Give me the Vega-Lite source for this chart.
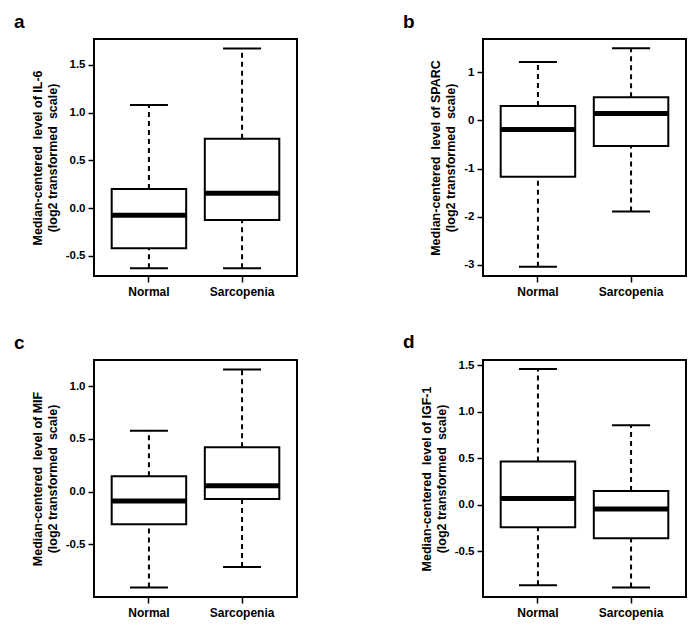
{
  "$schema": "https://vega.github.io/schema/vega-lite/v6.json",
  "background": "white",
  "padding": {"left": 13, "top": 12, "right": 5, "bottom": 5},
  "columns": 2,
  "bounds": "flush",
  "spacing": {"column": 186, "row": 84},
  "datasets": {
    "il6": [
      {"group": "Normal", "lower": -0.63, "q1": -0.42, "median": -0.075, "q3": 0.2, "upper": 1.08},
      {"group": "Sarcopenia", "lower": -0.63, "q1": -0.125, "median": 0.155, "q3": 0.727, "upper": 1.67}
    ],
    "sparc": [
      {"group": "Normal", "lower": -3.04, "q1": -1.17, "median": -0.19, "q3": 0.3, "upper": 1.21},
      {"group": "Sarcopenia", "lower": -1.89, "q1": -0.53, "median": 0.145, "q3": 0.48, "upper": 1.5}
    ],
    "mif": [
      {"group": "Normal", "lower": -0.91, "q1": -0.31, "median": -0.09, "q3": 0.145, "upper": 0.578},
      {"group": "Sarcopenia", "lower": -0.714, "q1": -0.07, "median": 0.055, "q3": 0.42, "upper": 1.158}
    ],
    "igf1": [
      {"group": "Normal", "lower": -0.865, "q1": -0.242, "median": 0.068, "q3": 0.466, "upper": 1.459},
      {"group": "Sarcopenia", "lower": -0.889, "q1": -0.36, "median": -0.045, "q3": 0.149, "upper": 0.854}
    ]
  },
  "concat": [
    {
      "width": 203, "height": 237,
      "title": {"text": "a"},
      "data": {"name": "il6"},
      "encoding": {"x": {"field": "group", "type": "nominal", "sort": ["Normal", "Sarcopenia"], "title": null, "scale": {"paddingInner": 0.2, "paddingOuter": 0.19}}},
      "layer": [
        {"mark": {"type": "rule", "strokeDash": [5, 4], "strokeWidth": 2, "color": "black"},
         "encoding": {"y": {"field": "q3", "type": "quantitative", "title": ["Median-centered\u00a0 level of IL-6", "(log2 transformed\u00a0 scale)"], "scale": {"domain": [-0.71, 1.77], "nice": false, "zero": false}, "axis": {"values": [-0.5, 0, 0.5, 1, 1.5], "labelExpr": "datum.value < 0 ? '-' + format(-datum.value, '.1f') : format(datum.value, '.1f')"}}, "y2": {"field": "upper"}}},
        {"mark": {"type": "rule", "strokeDash": [5, 4], "strokeWidth": 2, "color": "black"},
         "encoding": {"y": {"field": "lower", "type": "quantitative", "title": ["Median-centered\u00a0 level of IL-6", "(log2 transformed\u00a0 scale)"], "scale": {"domain": [-0.71, 1.77], "nice": false, "zero": false}}, "y2": {"field": "q1"}}},
        {"mark": {"type": "tick", "size": 38, "thickness": 2, "color": "black", "opacity": 1},
         "encoding": {"y": {"field": "upper", "type": "quantitative", "title": ["Median-centered\u00a0 level of IL-6", "(log2 transformed\u00a0 scale)"], "scale": {"domain": [-0.71, 1.77], "nice": false, "zero": false}}}},
        {"mark": {"type": "tick", "size": 38, "thickness": 2, "color": "black", "opacity": 1},
         "encoding": {"y": {"field": "lower", "type": "quantitative", "title": ["Median-centered\u00a0 level of IL-6", "(log2 transformed\u00a0 scale)"], "scale": {"domain": [-0.71, 1.77], "nice": false, "zero": false}}}},
        {"mark": {"type": "bar", "fill": "white", "stroke": "black", "strokeWidth": 2},
         "encoding": {"y": {"field": "q1", "type": "quantitative", "title": ["Median-centered\u00a0 level of IL-6", "(log2 transformed\u00a0 scale)"], "scale": {"domain": [-0.71, 1.77], "nice": false, "zero": false}}, "y2": {"field": "q3"}}},
        {"mark": {"type": "tick", "size": 74, "thickness": 5, "color": "black", "opacity": 1},
         "encoding": {"y": {"field": "median", "type": "quantitative", "title": ["Median-centered\u00a0 level of IL-6", "(log2 transformed\u00a0 scale)"], "scale": {"domain": [-0.71, 1.77], "nice": false, "zero": false}}}}
      ]
    },
    {
      "width": 203, "height": 237,
      "title": {"text": "b"},
      "data": {"name": "sparc"},
      "encoding": {"x": {"field": "group", "type": "nominal", "sort": ["Normal", "Sarcopenia"], "title": null, "scale": {"paddingInner": 0.2, "paddingOuter": 0.19}}},
      "layer": [
        {"mark": {"type": "rule", "strokeDash": [5, 4], "strokeWidth": 2, "color": "black"},
         "encoding": {"y": {"field": "q3", "type": "quantitative", "title": ["Median-centered\u00a0 level of SPARC", "(log2 transformed\u00a0 scale)"], "scale": {"domain": [-3.23, 1.69], "nice": false, "zero": false}, "axis": {"values": [-3, -2, -1, 0, 1], "labelExpr": "datum.value < 0 ? '-' + format(-datum.value, 'd') : format(datum.value, 'd')"}}, "y2": {"field": "upper"}}},
        {"mark": {"type": "rule", "strokeDash": [5, 4], "strokeWidth": 2, "color": "black"},
         "encoding": {"y": {"field": "lower", "type": "quantitative", "title": ["Median-centered\u00a0 level of SPARC", "(log2 transformed\u00a0 scale)"], "scale": {"domain": [-3.23, 1.69], "nice": false, "zero": false}}, "y2": {"field": "q1"}}},
        {"mark": {"type": "tick", "size": 38, "thickness": 2, "color": "black", "opacity": 1},
         "encoding": {"y": {"field": "upper", "type": "quantitative", "title": ["Median-centered\u00a0 level of SPARC", "(log2 transformed\u00a0 scale)"], "scale": {"domain": [-3.23, 1.69], "nice": false, "zero": false}}}},
        {"mark": {"type": "tick", "size": 38, "thickness": 2, "color": "black", "opacity": 1},
         "encoding": {"y": {"field": "lower", "type": "quantitative", "title": ["Median-centered\u00a0 level of SPARC", "(log2 transformed\u00a0 scale)"], "scale": {"domain": [-3.23, 1.69], "nice": false, "zero": false}}}},
        {"mark": {"type": "bar", "fill": "white", "stroke": "black", "strokeWidth": 2},
         "encoding": {"y": {"field": "q1", "type": "quantitative", "title": ["Median-centered\u00a0 level of SPARC", "(log2 transformed\u00a0 scale)"], "scale": {"domain": [-3.23, 1.69], "nice": false, "zero": false}}, "y2": {"field": "q3"}}},
        {"mark": {"type": "tick", "size": 74, "thickness": 5, "color": "black", "opacity": 1},
         "encoding": {"y": {"field": "median", "type": "quantitative", "title": ["Median-centered\u00a0 level of SPARC", "(log2 transformed\u00a0 scale)"], "scale": {"domain": [-3.23, 1.69], "nice": false, "zero": false}}}}
      ]
    },
    {
      "width": 203, "height": 237,
      "title": {"text": "c"},
      "data": {"name": "mif"},
      "encoding": {"x": {"field": "group", "type": "nominal", "sort": ["Normal", "Sarcopenia"], "title": null, "scale": {"paddingInner": 0.2, "paddingOuter": 0.19}}},
      "layer": [
        {"mark": {"type": "rule", "strokeDash": [5, 4], "strokeWidth": 2, "color": "black"},
         "encoding": {"y": {"field": "q3", "type": "quantitative", "title": ["Median-centered\u00a0 level of MIF", "(log2 transformed\u00a0 scale)"], "scale": {"domain": [-0.999, 1.248], "nice": false, "zero": false}, "axis": {"values": [-0.5, 0, 0.5, 1], "labelExpr": "datum.value < 0 ? '-' + format(-datum.value, '.1f') : format(datum.value, '.1f')"}}, "y2": {"field": "upper"}}},
        {"mark": {"type": "rule", "strokeDash": [5, 4], "strokeWidth": 2, "color": "black"},
         "encoding": {"y": {"field": "lower", "type": "quantitative", "title": ["Median-centered\u00a0 level of MIF", "(log2 transformed\u00a0 scale)"], "scale": {"domain": [-0.999, 1.248], "nice": false, "zero": false}}, "y2": {"field": "q1"}}},
        {"mark": {"type": "tick", "size": 38, "thickness": 2, "color": "black", "opacity": 1},
         "encoding": {"y": {"field": "upper", "type": "quantitative", "title": ["Median-centered\u00a0 level of MIF", "(log2 transformed\u00a0 scale)"], "scale": {"domain": [-0.999, 1.248], "nice": false, "zero": false}}}},
        {"mark": {"type": "tick", "size": 38, "thickness": 2, "color": "black", "opacity": 1},
         "encoding": {"y": {"field": "lower", "type": "quantitative", "title": ["Median-centered\u00a0 level of MIF", "(log2 transformed\u00a0 scale)"], "scale": {"domain": [-0.999, 1.248], "nice": false, "zero": false}}}},
        {"mark": {"type": "bar", "fill": "white", "stroke": "black", "strokeWidth": 2},
         "encoding": {"y": {"field": "q1", "type": "quantitative", "title": ["Median-centered\u00a0 level of MIF", "(log2 transformed\u00a0 scale)"], "scale": {"domain": [-0.999, 1.248], "nice": false, "zero": false}}, "y2": {"field": "q3"}}},
        {"mark": {"type": "tick", "size": 74, "thickness": 5, "color": "black", "opacity": 1},
         "encoding": {"y": {"field": "median", "type": "quantitative", "title": ["Median-centered\u00a0 level of MIF", "(log2 transformed\u00a0 scale)"], "scale": {"domain": [-0.999, 1.248], "nice": false, "zero": false}}}}
      ]
    },
    {
      "width": 203, "height": 237,
      "title": {"text": "d"},
      "data": {"name": "igf1"},
      "encoding": {"x": {"field": "group", "type": "nominal", "sort": ["Normal", "Sarcopenia"], "title": null, "scale": {"paddingInner": 0.2, "paddingOuter": 0.19}}},
      "layer": [
        {"mark": {"type": "rule", "strokeDash": [5, 4], "strokeWidth": 2, "color": "black"},
         "encoding": {"y": {"field": "q3", "type": "quantitative", "title": ["Median-centered\u00a0 level of IGF-1", "(log2 transformed\u00a0 scale)"], "scale": {"domain": [-0.99, 1.555], "nice": false, "zero": false}, "axis": {"values": [-0.5, 0, 0.5, 1, 1.5], "labelExpr": "datum.value < 0 ? '-' + format(-datum.value, '.1f') : format(datum.value, '.1f')"}}, "y2": {"field": "upper"}}},
        {"mark": {"type": "rule", "strokeDash": [5, 4], "strokeWidth": 2, "color": "black"},
         "encoding": {"y": {"field": "lower", "type": "quantitative", "title": ["Median-centered\u00a0 level of IGF-1", "(log2 transformed\u00a0 scale)"], "scale": {"domain": [-0.99, 1.555], "nice": false, "zero": false}}, "y2": {"field": "q1"}}},
        {"mark": {"type": "tick", "size": 38, "thickness": 2, "color": "black", "opacity": 1},
         "encoding": {"y": {"field": "upper", "type": "quantitative", "title": ["Median-centered\u00a0 level of IGF-1", "(log2 transformed\u00a0 scale)"], "scale": {"domain": [-0.99, 1.555], "nice": false, "zero": false}}}},
        {"mark": {"type": "tick", "size": 38, "thickness": 2, "color": "black", "opacity": 1},
         "encoding": {"y": {"field": "lower", "type": "quantitative", "title": ["Median-centered\u00a0 level of IGF-1", "(log2 transformed\u00a0 scale)"], "scale": {"domain": [-0.99, 1.555], "nice": false, "zero": false}}}},
        {"mark": {"type": "bar", "fill": "white", "stroke": "black", "strokeWidth": 2},
         "encoding": {"y": {"field": "q1", "type": "quantitative", "title": ["Median-centered\u00a0 level of IGF-1", "(log2 transformed\u00a0 scale)"], "scale": {"domain": [-0.99, 1.555], "nice": false, "zero": false}}, "y2": {"field": "q3"}}},
        {"mark": {"type": "tick", "size": 74, "thickness": 5, "color": "black", "opacity": 1},
         "encoding": {"y": {"field": "median", "type": "quantitative", "title": ["Median-centered\u00a0 level of IGF-1", "(log2 transformed\u00a0 scale)"], "scale": {"domain": [-0.99, 1.555], "nice": false, "zero": false}}}}
      ]
    }
  ],
  "config": {
    "font": "Liberation Sans",
    "view": {"stroke": "black", "strokeWidth": 2},
    "title": {"anchor": "start", "frame": "group", "dx": -80, "offset": 7, "fontSize": 19, "fontWeight": "bold", "color": "black", "font": "Liberation Sans"},
    "axis": {"grid": false, "domain": false, "tickColor": "black", "tickWidth": 1.5, "tickSize": 6, "labelColor": "black", "labelFont": "Liberation Sans", "labelFontWeight": "bold", "titleColor": "black", "titleFont": "Liberation Sans", "titleFontWeight": "bold"},
    "axisY": {"labelFontSize": 11.5, "labelPadding": 3, "titleFontSize": 12.5, "titlePadding": 6, "titleLineHeight": 15},
    "axisX": {"labelFontSize": 12, "labelPadding": 4, "labelAngle": 0}
  }
}
